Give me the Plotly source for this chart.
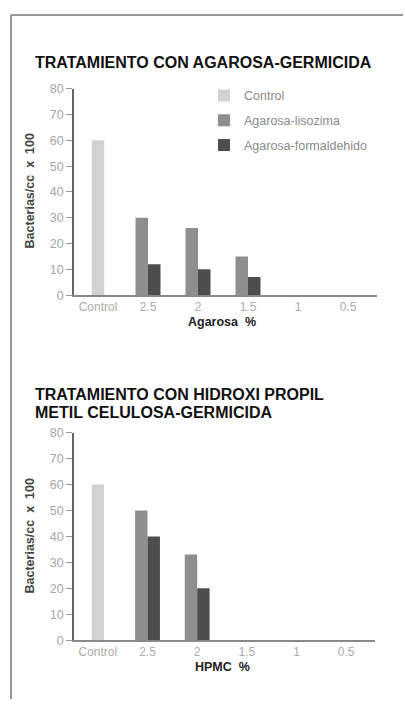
import plotly.graph_objects as go

categories = ["Control", "2.5", "2", "1.5", "1", "0.5"]

# Top chart: Agarosa
agar_control = [60, None, None, None, None, None]
agar_lisozima = [None, 30, 26, 15, 0, 0]
agar_formal = [None, 12, 10, 7, 0, 0]

# Bottom chart: HPMC
hpmc_control = [60, None, None, None, None, None]
hpmc_lisozima = [None, 50, 33, 0, 0, 0]
hpmc_formal = [None, 40, 20, 0, 0, 0]

series_names = ["Control", "Agarosa-lisozima", "Agarosa-formaldehido"]
colors = ["#d2d2d2", "#8e8e8e", "#4d4d4d"]
bar_w = 0.25
offsets = [-bar_w / 2, -bar_w, 0]

W, H = 405, 706
FONT = "Liberation Sans, Arial, sans-serif"
# the photographed page is drawn slightly compressed vertically; compensate
VSCALE, VOFF = 0.983, 6.0

fig = go.Figure()

for i, (vals, name) in enumerate(zip([agar_control, agar_lisozima, agar_formal], series_names)):
    fig.add_trace(go.Bar(x=categories, y=vals, name=name, marker_color=colors[i],
                         marker_line_width=0, width=bar_w, offset=offsets[i],
                         xaxis="x", yaxis="y", showlegend=True, legendgroup=name))
for i, vals in enumerate([hpmc_control, hpmc_lisozima, hpmc_formal]):
    fig.add_trace(go.Bar(x=categories, y=vals, name=series_names[i], marker_color=colors[i],
                         marker_line_width=0, width=bar_w, offset=offsets[i],
                         xaxis="x2", yaxis="y2", showlegend=False))

def px_x(p):
    return p / W

def px_y(p):
    f = (p - VOFF) / VSCALE
    return min(1.0, max(0.0, (H - f) / H))

xr = [-0.48, 5.58]
common_x = dict(type="category", range=xr, showgrid=False, zeroline=False,
                showline=True, linecolor="#888", linewidth=1.5, ticks="",
                tickfont=dict(family=FONT, size=12, color="#ababab"), fixedrange=True)
common_y = dict(range=[0, 80], tickvals=[0, 10, 20, 30, 40, 50, 60, 70, 80], showgrid=False,
                zeroline=False, showline=True, linecolor="#666", linewidth=1.5,
                ticks="outside", ticklen=6, tickcolor="#999", tickwidth=1,
                tickfont=dict(family=FONT, size=12.5, color="#a5a5a5"), fixedrange=True)

fig.update_layout(
    width=W, height=H, margin=dict(l=0, r=0, t=0, b=0),
    paper_bgcolor="white", plot_bgcolor="white",
    barmode="overlay", showlegend=True,
    xaxis=dict(domain=[px_x(74), px_x(377)], anchor="y", **common_x),
    yaxis=dict(domain=[px_y(295), px_y(88)], anchor="x", **common_y),
    xaxis2=dict(domain=[px_x(74), px_x(375)], anchor="y2", **common_x),
    yaxis2=dict(domain=[px_y(641), px_y(433)], anchor="x2", **common_y),
    legend=dict(x=px_x(204), y=px_y(80), xanchor="left", yanchor="top",
                bgcolor="rgba(0,0,0,0)", traceorder="grouped", tracegroupgap=5.5,
                font=dict(family=FONT, size=12.5, color="#8a8a8a")),
    font=dict(family=FONT),
)

title_font = dict(family=FONT, size=16, color="#111")
ann = [
    dict(text="<b>TRATAMIENTO CON AGAROSA-GERMICIDA</b>", x=px_x(33), y=px_y(62)),
    dict(text="<b>TRATAMIENTO CON HIDROXI PROPIL</b>", x=px_x(33), y=px_y(395)),
    dict(text="<b>METIL CELULOSA-GERMICIDA</b>", x=px_x(33), y=px_y(413)),
]
for a in ann:
    fig.add_annotation(xref="paper", yref="paper", xanchor="left", yanchor="middle",
                       showarrow=False, font=title_font, **a)

ytitle = "<b>Bacterias/cc\u00a0\u00a0x\u00a0\u00a0100</b>"
for yc in [191, 537]:
    fig.add_annotation(xref="paper", yref="paper", x=px_x(30), y=px_y(yc), text=ytitle,
                       textangle=-90, showarrow=False, xanchor="center", yanchor="middle",
                       font=dict(family=FONT, size=12.5, color="#444"))

for txt, yc in [("<b>Agarosa\u00a0\u00a0%</b>", 322), ("<b>HPMC\u00a0\u00a0%</b>", 668)]:
    fig.add_annotation(xref="paper", yref="paper", x=px_x(222), y=px_y(yc), text=txt,
                       showarrow=False, xanchor="center", yanchor="middle",
                       font=dict(family=FONT, size=12.5, color="#222"))

# frame lines
fig.add_shape(type="line", xref="paper", yref="paper", x0=px_x(11), x1=px_x(11),
              y0=px_y(14), y1=0, line=dict(color="#777", width=1.5))
fig.add_shape(type="line", xref="paper", yref="paper", x0=px_x(11), x1=px_x(403),
              y0=px_y(14), y1=px_y(14), line=dict(color="#777", width=1.5))

fig.write_html("out.html", config={"displayModeBar": False},
               post_script="document.body.style.margin='0';")
